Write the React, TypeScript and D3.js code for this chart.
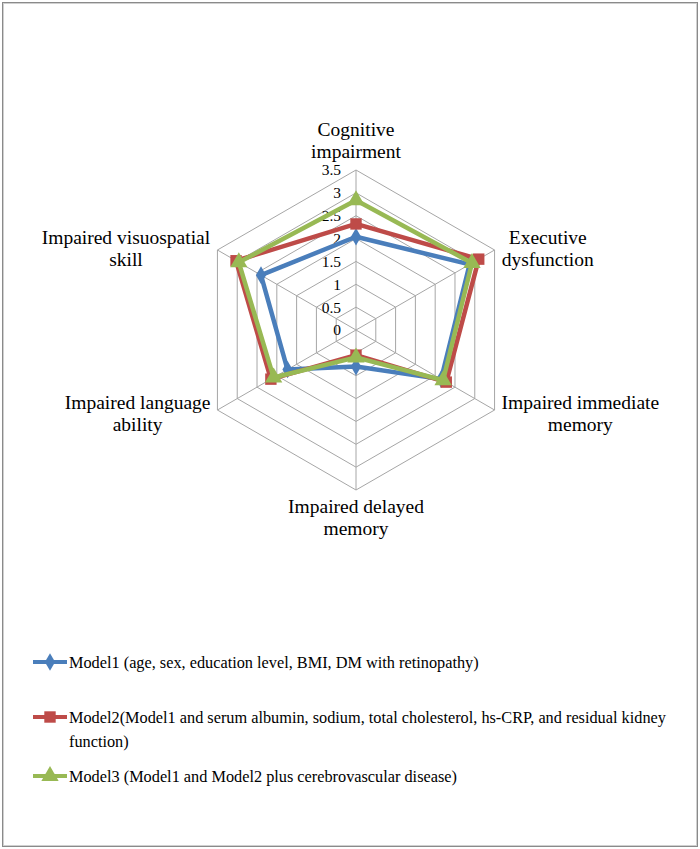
import React, { useEffect, useRef } from 'react';
import * as d3 from 'd3';

// axis labels (clockwise from top), split into display lines
const categories = [
  ["Cognitive", "impairment"],
  ["Executive", "dysfunction"],
  ["Impaired immediate", "memory"],
  ["Impaired delayed", "memory"],
  ["Impaired language", "ability"],
  ["Impaired visuospatial", "skill"],
];

const model1 = [2.04, 2.87, 2.15, 0.8, 1.73, 2.4];
const model2 = [2.32, 3.1, 2.28, 0.55, 2.15, 3.03];
const model3 = [2.84, 2.93, 2.2, 0.6, 2.08, 2.96];

const ticks = [0, 0.5, 1, 1.5, 2, 2.5, 3, 3.5];

const legendLabels = [
  ["Model1 (age, sex, education level, BMI, DM with retinopathy)"],
  ["Model2(Model1 and serum albumin, sodium, total cholesterol, hs-CRP, and residual kidney", "function)"],
  ["Model3 (Model1 and Model2 plus cerebrovascular disease)"],
];

const RadarChart: React.FC = () => {
  const svgRef = useRef<SVGSVGElement>(null);

  useEffect(() => {
    if (!svgRef.current) return;
    document.body.style.margin = "0";
    const root = d3.select(svgRef.current);
    root.selectAll("*").remove();

    const width = 700;
    const height = 849;
    const cx = 356;
    const cy = 330;
    const font = "Liberation Serif, DejaVu Serif, serif";

    // frame
    root.append("rect").attr("x", 2.5).attr("y", 2.5).attr("width", width - 5).attr("height", height - 5)
      .attr("fill", "white").attr("stroke", "#8a8a8a").attr("stroke-width", 1);
    root.append("rect").attr("x", 3.5).attr("y", 3.5).attr("width", width - 7).attr("height", height - 7)
      .attr("fill", "none").attr("stroke", "#d0d0d0").attr("stroke-width", 1);

    const r = d3.scaleLinear().domain([0, 3.5]).range([0, 160]);
    const n = categories.length;
    const angle = (i: number) => (i * 2 * Math.PI) / n;
    const pt = (i: number, v: number): [number, number] => [
      cx + Math.sin(angle(i)) * r(v),
      cy - Math.cos(angle(i)) * r(v),
    ];

    const g = root.append("g").attr("font-family", font);

    // grid rings
    const ring = d3.lineRadial<number>().angle((_, i) => angle(i)).radius(d => r(d)).curve(d3.curveLinearClosed);
    ticks.filter(t => t > 0).forEach(t => {
      g.append("path")
        .attr("transform", `translate(${cx},${cy})`)
        .attr("d", ring(d3.range(n).map(() => t)))
        .attr("fill", "none")
        .attr("stroke", "#a6a6a6")
        .attr("stroke-width", 1);
    });

    // spokes
    d3.range(n).forEach(i => {
      const [x, y] = pt(i, 3.5);
      g.append("line").attr("x1", cx).attr("y1", cy).attr("x2", x).attr("y2", y)
        .attr("stroke", "#a6a6a6").attr("stroke-width", 1);
    });

    // tick labels
    ticks.forEach(t => {
      g.append("text")
        .attr("x", cx - 15)
        .attr("y", cy - r(t))
        .attr("dy", "0.35em")
        .attr("text-anchor", "end")
        .attr("font-size", 15.5)
        .attr("fill", "#000")
        .text(String(t));
    });

    // axis labels
    const lineH = 22;
    categories.forEach((lines, i) => {
      const [vx, vy] = pt(i, 3.5);
      const lab = g.append("g");
      lines.forEach((s, k) => {
        lab.append("text")
          .attr("x", 0).attr("y", k * lineH)
          .attr("dy", "0.35em")
          .attr("text-anchor", "middle")
          .attr("font-size", 19.5)
          .text(s);
      });
      const bb = (lab.node() as SVGGElement).getBBox();
      const blockH = (lines.length - 1) * lineH;
      let tx = vx, ty = vy;
      const sx = Math.sin(angle(i));
      if (Math.abs(sx) < 0.01) {
        ty = vy < cy ? vy - 10 - blockH - 9 : vy + 16;
      } else if (sx > 0) {
        tx = vx + 7 + bb.width / 2;
        ty = vy - blockH / 2 + (vy < cy ? -2 : 3);
      } else {
        tx = vx - 7 - bb.width / 2;
        ty = vy - blockH / 2 + (vy < cy ? -2 : 3);
      }
      lab.attr("transform", `translate(${tx},${ty})`);
    });

    // series
    const series = [
      { values: model1, color: "#4a7ebb", symbol: d3.symbolDiamond, size: 90 },
      { values: model2, color: "#be4b48", symbol: d3.symbolSquare, size: 130 },
      { values: model3, color: "#98b954", symbol: d3.symbolTriangle, size: 130 },
    ];
    const radial = d3.lineRadial<number>().angle((_, i) => angle(i)).radius(d => r(d)).curve(d3.curveLinearClosed);

    series.forEach(s => {
      const sg = g.append("g");
      sg.append("path")
        .attr("transform", `translate(${cx},${cy})`)
        .attr("d", radial(s.values))
        .attr("fill", "none")
        .attr("stroke", s.color)
        .attr("stroke-width", 4.5)
        .attr("stroke-linejoin", "round");
      s.values.forEach((v, i) => {
        const [x, y] = pt(i, v);
        sg.append("path")
          .attr("transform", `translate(${x},${y})`)
          .attr("d", d3.symbol(s.symbol, s.size)())
          .attr("fill", s.color);
      });
    });

    // legend
    const legendY = [662, 717, 776];
    series.forEach((s, i) => {
      const y = legendY[i];
      const lg = root.append("g").attr("font-family", font);
      lg.append("line").attr("x1", 33).attr("x2", 67).attr("y1", y).attr("y2", y)
        .attr("stroke", s.color).attr("stroke-width", 4);
      lg.append("path").attr("transform", `translate(50,${y})`)
        .attr("d", d3.symbol(s.symbol, s.size)()).attr("fill", s.color);
      legendLabels[i].forEach((txt, k) => {
        lg.append("text")
          .attr("x", 69).attr("y", y + k * 24)
          .attr("dy", "0.35em")
          .attr("font-size", 16.3)
          .text(txt);
      });
    });
  }, []);

  return <svg ref={svgRef} width={700} height={849} style={{ display: "block" }} />;
};

export default function App() {
  return <RadarChart />;
}
